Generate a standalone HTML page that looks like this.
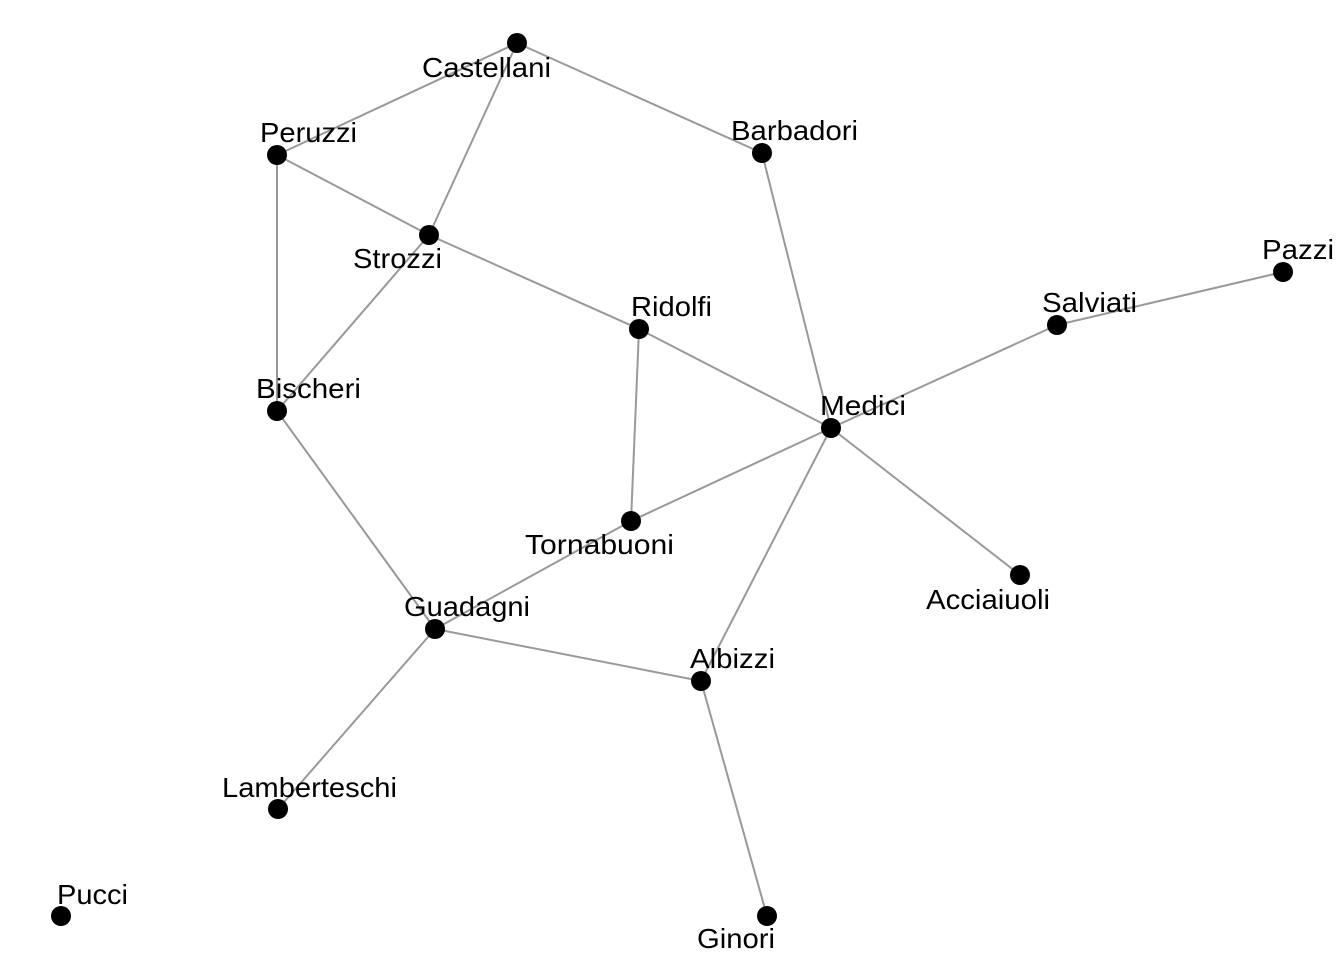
<!DOCTYPE html>
<html><head><style>html,body{margin:0;padding:0;background:#fff}svg{display:block}</style></head>
<body>
<svg width="1344" height="960" xmlns="http://www.w3.org/2000/svg">
<g stroke="#999" stroke-width="2" fill="none">
<line x1="517" y1="43" x2="277" y2="155"/>
<line x1="517" y1="43" x2="429" y2="235"/>
<line x1="517" y1="43" x2="762" y2="153"/>
<line x1="277" y1="155" x2="429" y2="235"/>
<line x1="277" y1="155" x2="277" y2="411"/>
<line x1="429" y1="235" x2="639" y2="329"/>
<line x1="429" y1="235" x2="277" y2="411"/>
<line x1="762" y1="153" x2="831" y2="428"/>
<line x1="639" y1="329" x2="831" y2="428"/>
<line x1="639" y1="329" x2="631" y2="521"/>
<line x1="831" y1="428" x2="1057" y2="325"/>
<line x1="1057" y1="325" x2="1283" y2="272"/>
<line x1="831" y1="428" x2="1020" y2="575"/>
<line x1="831" y1="428" x2="631" y2="521"/>
<line x1="831" y1="428" x2="701" y2="681"/>
<line x1="277" y1="411" x2="435" y2="629"/>
<line x1="631" y1="521" x2="435" y2="629"/>
<line x1="435" y1="629" x2="701" y2="681"/>
<line x1="435" y1="629" x2="278" y2="809"/>
<line x1="701" y1="681" x2="767" y2="916"/>
</g>
<g fill="#000">
<circle cx="517" cy="43" r="10"/><circle cx="277" cy="155" r="10"/><circle cx="762" cy="153" r="10"/>
<circle cx="429" cy="235" r="10"/><circle cx="639" cy="329" r="10"/><circle cx="1283" cy="272" r="10"/>
<circle cx="1057" cy="325" r="10"/><circle cx="277" cy="411" r="10"/><circle cx="831" cy="428" r="10"/>
<circle cx="631" cy="521" r="10"/><circle cx="1020" cy="575" r="10"/><circle cx="435" cy="629" r="10"/>
<circle cx="701" cy="681" r="10"/><circle cx="278" cy="809" r="10"/><circle cx="61" cy="916" r="10"/>
<circle cx="767" cy="916" r="10"/>
</g>
<g font-family="Liberation Sans, sans-serif" font-size="28" fill="#000" lengthAdjust="spacingAndGlyphs">
<text x="422" y="77" textLength="129" lengthAdjust="spacingAndGlyphs">Castellani</text>
<text x="260" y="142" textLength="97" lengthAdjust="spacingAndGlyphs">Peruzzi</text>
<text x="731" y="140" textLength="127" lengthAdjust="spacingAndGlyphs">Barbadori</text>
<text x="353" y="268" textLength="89" lengthAdjust="spacingAndGlyphs">Strozzi</text>
<text x="631" y="316" textLength="81" lengthAdjust="spacingAndGlyphs">Ridolfi</text>
<text x="1262" y="259" textLength="72" lengthAdjust="spacingAndGlyphs">Pazzi</text>
<text x="1042" y="312" textLength="95" lengthAdjust="spacingAndGlyphs">Salviati</text>
<text x="256" y="398" textLength="105" lengthAdjust="spacingAndGlyphs">Bischeri</text>
<text x="820" y="415" textLength="86" lengthAdjust="spacingAndGlyphs">Medici</text>
<text x="525" y="554" textLength="149" lengthAdjust="spacingAndGlyphs">Tornabuoni</text>
<text x="926" y="609" textLength="124" lengthAdjust="spacingAndGlyphs">Acciaiuoli</text>
<text x="404" y="616" textLength="126" lengthAdjust="spacingAndGlyphs">Guadagni</text>
<text x="690" y="668" textLength="85" lengthAdjust="spacingAndGlyphs">Albizzi</text>
<text x="222" y="797" textLength="175" lengthAdjust="spacingAndGlyphs">Lamberteschi</text>
<text x="57" y="904" textLength="71" lengthAdjust="spacingAndGlyphs">Pucci</text>
<text x="697" y="948" textLength="78" lengthAdjust="spacingAndGlyphs">Ginori</text>
</g>
</svg>
</body></html>
